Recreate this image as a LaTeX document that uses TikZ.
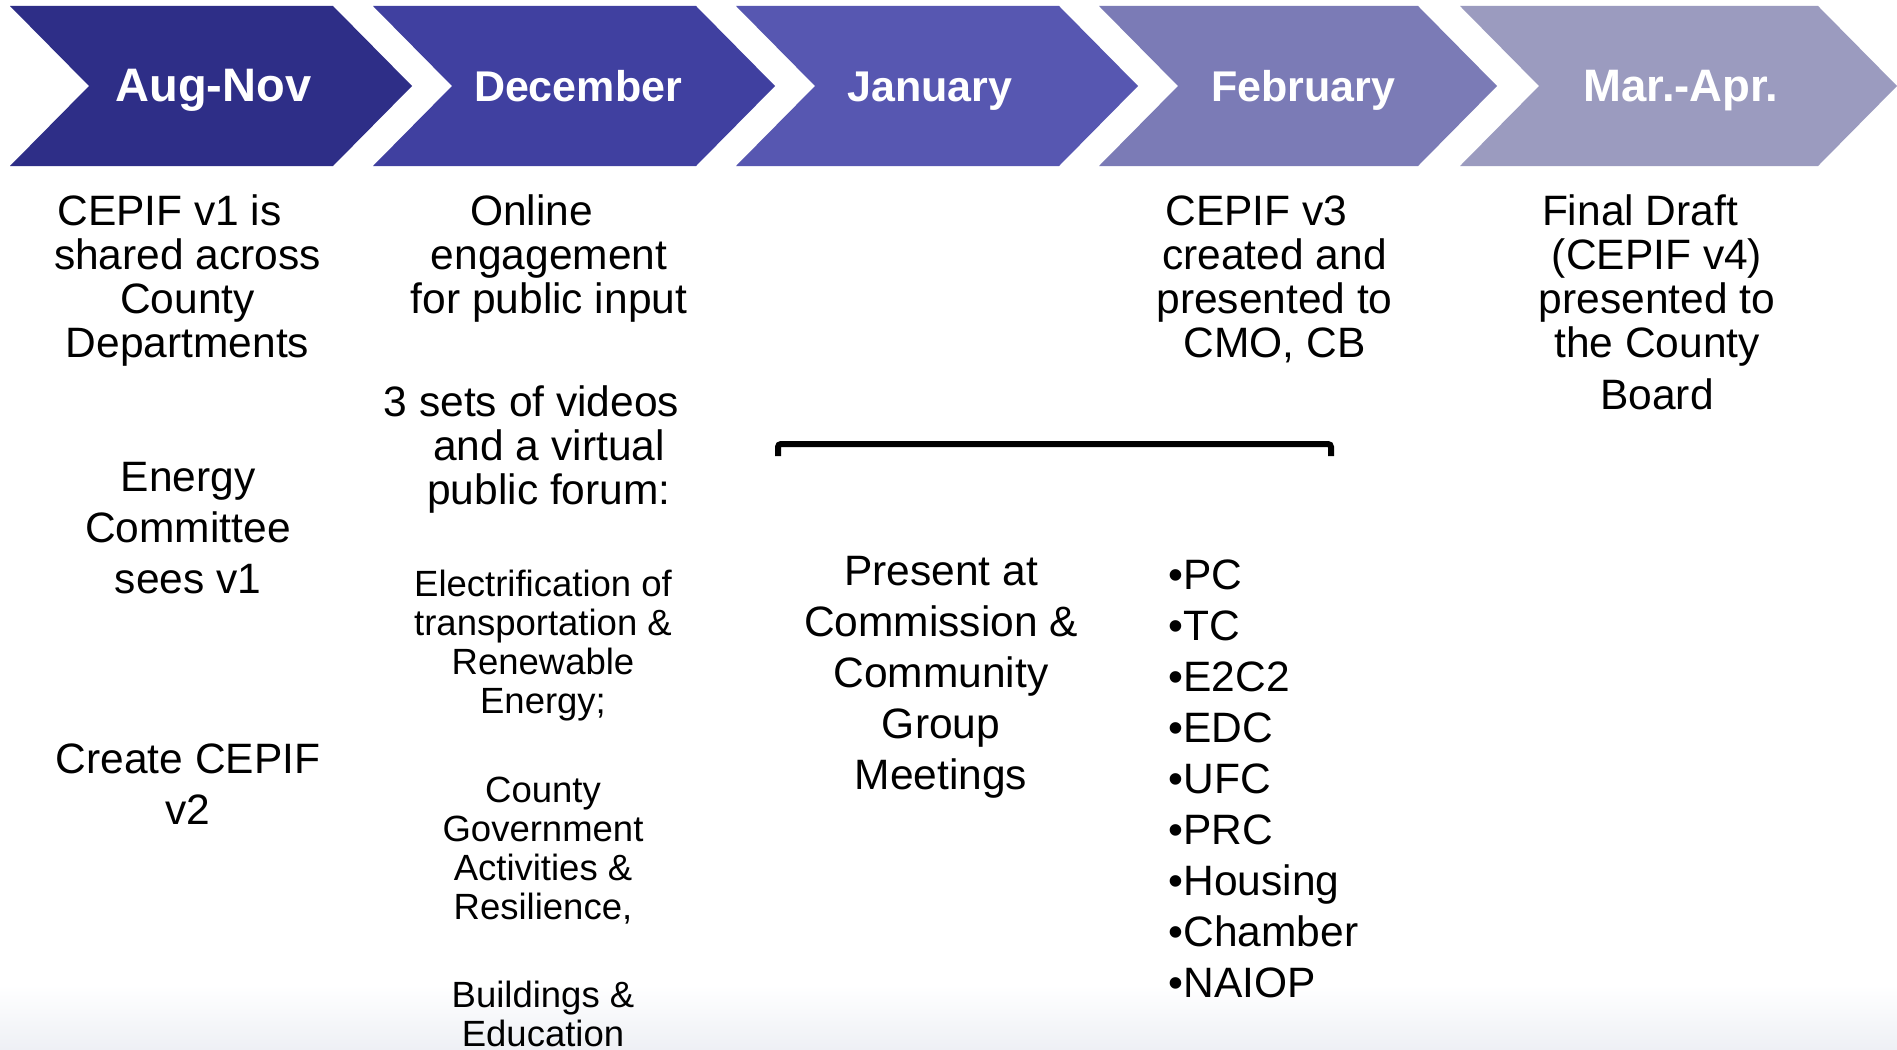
\documentclass[tikz,border=0pt]{standalone}
\usepackage{fontspec}
\setmainfont{Liberation Sans}
\usetikzlibrary{calc}
\definecolor{cA}{HTML}{2E2E87}
\definecolor{cB}{HTML}{4040A0}
\definecolor{cC}{HTML}{5757B1}
\definecolor{cD}{HTML}{7B7BB6}
\definecolor{cE}{HTML}{9B9BBF}
\definecolor{bgbot}{HTML}{EEF0F5}
\begin{document}
\begin{tikzpicture}[x=1pt,y=-1pt,
  hdr/.style={text=white,font=\fontsize{43}{50}\selectfont\bfseries,inner sep=0,anchor=base},
  body/.style={align=center,font=\fontsize{42.5}{44}\selectfont,inner sep=0,anchor=base},
  bodywide/.style={align=center,font=\fontsize{42.5}{51}\selectfont,inner sep=0,anchor=base},
  small/.style={align=center,font=\fontsize{36.5}{39}\selectfont,inner sep=0,anchor=base},
  blist/.style={align=left,font=\fontsize{42.5}{51}\selectfont,inner sep=0,anchor=base west},
  brace/.style={line width=6pt,rounded corners=3pt}]
\useasboundingbox (0,0) rectangle (1897,1049);
\fill[white] (0,0) rectangle (1897,1049);
\shade[top color=white,bottom color=bgbot] (0,985) rectangle (1897,1049);
% chevrons
\fill[cA] (10,6) -- (333,6) -- (412,86) -- (333,166) -- (10,166) -- (89,86) -- cycle;
\fill[cB] (373,6) -- (696,6) -- (775,86) -- (696,166) -- (373,166) -- (452,86) -- cycle;
\fill[cC] (736,6) -- (1059,6) -- (1138,86) -- (1059,166) -- (736,166) -- (815,86) -- cycle;
\fill[cD] (1099,6) -- (1418,6) -- (1497,86) -- (1418,166) -- (1099,166) -- (1178,86) -- cycle;
\fill[cE] (1460,6) -- (1818,6) -- (1897,86) -- (1818,166) -- (1460,166) -- (1539,86) -- cycle;
\node[hdr,font=\fontsize{47}{50}\selectfont\bfseries] (h1) at (213.5,101) {Aug-Nov};
\node[hdr] (h2) at (578,101) {December};
\node[hdr] (h3) at (930,101) {January};
\node[hdr] (h4) at (1303,101) {February};
\node[hdr,font=\fontsize{45.5}{50}\selectfont\bfseries] (h5) at (1681,101) {Mar.-Apr.};
% column 1
\node[body] (a1) at (187.5,357) {CEPIF v1 is\hspace*{36pt}\\shared across\\County\\Departments};
\node[bodywide] (a2) at (188,593.5) {Energy\\Committee\\sees v1};
\node[bodywide] (a3) at (188,824.5) {Create CEPIF\\v2};
% column 2
\node[body] (b1) at (549,313) {Online\hspace*{35pt}\\engagement\\for public input};
\node[body] (b2) at (549,504) {3 sets of videos\hspace*{35pt}\\and a virtual\\public forum:};
\node[small] (b3) at (543,713) {Electrification of\\transportation \&\\Renewable\\Energy;};
\node[small] (b4) at (543,919) {County\\Government\\Activities \&\\Resilience,};
\node[small] (b5) at (543,1046) {Buildings \&\\Education};
% January / February
\coordinate (bl) at (778,456);
\coordinate (br) at (1331,456);
\draw[brace] (bl) -- ++(0,-12) -- ($(br)+(0,-12)$) -- (br);
\node[bodywide] (c1) at (941,789.5) {Present at\\Commission \&\\Community\\Group\\Meetings};
\node[blist] (c2) at (1168.5,997) {•PC\\•TC\\•E2C2\\•EDC\\•UFC\\•PRC\\•Housing\\•Chamber\\•NAIOP};
\node[body] (d1) at (1274.5,357) {CEPIF v3\hspace*{36pt}\\created and\\presented to\\CMO, CB};
% Mar-Apr
\node[body] (e1) at (1657,357) {Final Draft\hspace*{34pt}\\(CEPIF v4)\\presented to\\the County};
\node[body] (e2) at (1657,409) {Board};
\end{tikzpicture}
\end{document}
